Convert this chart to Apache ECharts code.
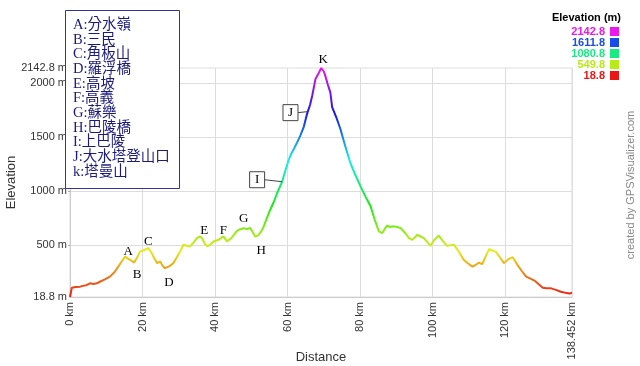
<!DOCTYPE html>
<html><head><meta charset="utf-8">
<script src="https://cdn.jsdelivr.net/npm/echarts@6/dist/echarts.min.js"></script>
<style>html,body{margin:0;padding:0;background:#fff}#c{width:640px;height:366px}</style>
</head><body><div id="c"></div>
<script>
// ---- data ----
const distances = [0,0.3,0.5,1.5,2.8,3.5,4.5,5.5,6.5,7.4,8.5,9.5,11,12.3,13.3,14.3,15.2,16.0,16.6,17.7,18.5,19.3,20.2,20.7,21.6,22.3,23,24,24.9,25.5,26.2,27.2,28.5,29.5,30.5,31.3,32.2,33.1,34,35,35.9,36.5,37.2,37.8,38.7,39.6,41,42.3,43.3,44.5,46,46.8,47.9,48.8,49.7,50.4,51.1,51.9,52.6,53.4,54.3,55.2,56.2,57.1,58.5,59.3,60.3,61.2,61.7,62.6,63.5,64.5,65.4,66.2,66.8,67.7,68.5,69.3,70.0,70.4,71.1,71.8,72.3,73.5,74.6,75.9,77.3,78.7,80.1,81.5,82.9,84.0,85.2,86.1,86.8,87.5,88.3,89.3,90.2,91.2,92.5,93.5,94.4,95.8,96.7,97.6,98.5,99.4,100.5,101.7,102.8,104,105.9,107.2,108.6,109.8,111,112.0,112.8,113.7,114.7,115.6,116.5,117.4,118.5,119.7,120.9,122.1,123.4,124.6,125.8,127,128.1,129.2,130.4,131.5,132.7,134,135.4,137,137.8,138.452];
const elevations = [18.8,20,105,112,115,122,128,146,140,146,165,180,208,250,301,350,394,375,363,338,385,440,450,456,472,440,394,333,348,310,286,300,333,390,450,503,495,488,520,565,581,560,510,488,505,534,550,581,534,565,630,645,656,650,659,620,578,590,620,671,750,826,900,981,1088,1180,1290,1360,1389,1450,1513,1600,1720,1800,1886,2040,2090,2142.8,2110,2072,1990,1917,1780,1680,1575,1420,1264,1150,1047,950,860,740,627,611,650,680,668,674,668,658,610,565,549,596,580,565,530,493,550,587,540,493,503,440,363,330,301,320,338,323,400,463,450,440,390,333,370,388,317,260,208,190,171,140,105,100,99,85,68,55,52,58];
const xTickValues = [0,20,40,60,80,100,120,138.452];
const yTickValues = [18.8,500,1000,1500,2000,2142.8];
const yGridValues = [500,1000,1500,2000];
const waypointNames = ['A','B','C','D','E','F','G','H','I','J','K'];
const waypointDist = [15.2,17.7,21.6,26.2,35.9,42.3,47.9,51.1,58.5,65.5,69.3];
const waypointElev = [394,338,472,286,581,581,656,578,1088,1738,2142.8];
const legendLabels = ['A:分水嶺','B:三民','C:角板山','D:羅浮橋','E:高坡','F:高義','G:蘇樂','H:巴陵橋','I:上巴陵','J:大水塔登山口','k:塔曼山'];
const scaleValues = [2142.8,1611.8,1080.8,549.8,18.8];
const elevMin = 18.8, elevMax = 2142.8, distMax = 138.452;

// ---- styles ----
const labelOffsets = [[3,-5],[3,12],[0,-7],[4,14],[4,-6],[0,-6],[0,-10],[6,14],[-25,-2],[-17,1],[2,-8]];
const labelBoxed = [false,false,false,false,false,false,false,false,true,true,false];

function hsv(h, s, v) {
  const f = n => { const k = (n + h / 60) % 6; return v - v * s * Math.max(0, Math.min(k, 4 - k, 1)); };
  const to = x => Math.round(x * 255).toString(16).padStart(2, '0');
  return '#' + to(f(5)) + to(f(3)) + to(f(1));
}
const hueStops = [];
for (let h = 0; h <= 300; h += 15) hueStops.push(hsv(h, 0.9, 0.92));
const colorFor = v => hsv((v - elevMin) / (elevMax - elevMin) * 300, 0.9, 0.92);

const chart = echarts.init(document.getElementById('c'), null, {renderer: 'canvas'});
const sans = '"Liberation Sans", Arial, sans-serif';
const serif = '"Liberation Serif", "Noto Sans CJK TC", serif';

const graphics = [];
// waypoint legend box
graphics.push({type: 'rect', left: 65, top: 10, z: 100,
  shape: {width: 114, height: 178}, style: {fill: '#fff', stroke: '#33339a', lineWidth: 1}});
legendLabels.forEach((t, i) => {
  graphics.push({type: 'text', x: 73, y: 25 + i * 14.7, z: 101,
    style: {text: t, fill: '#1a1a80', font: '14.5px ' + serif, textVerticalAlign: 'middle'}});
});
// elevation colour scale
graphics.push({type: 'text', x: 621, y: 18, z: 101,
  style: {text: 'Elevation (m)', fill: '#000', font: 'bold 11px ' + sans, textAlign: 'right', textVerticalAlign: 'middle'}});
scaleValues.forEach((v, i) => {
  const c = colorFor(v);
  graphics.push({type: 'text', x: 605, y: 32 + i * 11, z: 101,
    style: {text: String(v), fill: c, font: 'bold 11px ' + sans, textAlign: 'right', textVerticalAlign: 'middle'}});
  graphics.push({type: 'rect', x: 610, y: 27 + i * 11, z: 101,
    shape: {width: 9, height: 9}, style: {fill: c}});
});
graphics.push({type: 'text', x: 631, y: 185, rotation: Math.PI / 2, z: 101,
  style: {text: 'created by GPSVisualizer.com', fill: '#888', font: '11px ' + sans, textAlign: 'center', textVerticalAlign: 'middle'}});

chart.setOption({
  animation: false,
  backgroundColor: '#fff',
  grid: {left: 70, right: 68, top: 68, bottom: 69, show: true, borderColor: '#ddd', borderWidth: 1,
    containLabel: false, outerBoundsMode: 'none'},
  xAxis: {
    type: 'value', min: 0, max: distMax, interval: 20,
    name: 'Distance', nameLocation: 'middle', nameGap: 54, nameMoveOverlap: false,
    nameTextStyle: {fontFamily: sans, fontSize: 13, color: '#333'},
    axisLine: {show: true, lineStyle: {color: '#ccc'}},
    axisTick: {show: false},
    axisLabel: {customValues: xTickValues, rotate: 90, margin: 5, fontFamily: sans, fontSize: 11, color: '#333',
      formatter: v => v + ' km'},
    splitLine: {show: true, lineStyle: {color: '#ddd'}}
  },
  yAxis: {
    type: 'value', min: elevMin, max: elevMax,
    name: 'Elevation', nameLocation: 'middle', nameGap: 52, nameMoveOverlap: false,
    nameTextStyle: {fontFamily: sans, fontSize: 13, color: '#333'},
    axisLine: {show: true, lineStyle: {color: '#ccc'}},
    axisTick: {show: true, customValues: yGridValues, length: 2, lineStyle: {color: '#aaa'}},
    axisLabel: {customValues: yTickValues, margin: 3, fontFamily: sans, fontSize: 11, color: '#333',
      formatter: v => v + ' m'},
    splitLine: {show: true, lineStyle: {color: '#ddd'}}
  },
  visualMap: {
    type: 'continuous', show: false, seriesIndex: 0, dimension: 1,
    min: elevMin, max: elevMax, inRange: {color: hueStops}
  },
  series: [
    {
      type: 'line', showSymbol: false, symbol: 'none',
      lineStyle: {width: 2},
      data: distances.map((d, i) => [d, elevations[i]]),
      z: 3
    },
    {
      type: 'custom', z: 5, clip: false,
      data: waypointNames.map((n, i) => [waypointDist[i], waypointElev[i], i]),
      renderItem: (params, api) => {
        const i = api.value(2);
        const p = api.coord([api.value(0), api.value(1)]);
        const o = labelOffsets[i];
        const cx = p[0] + o[0], cy = p[1] + o[1];
        const children = [];
        if (labelBoxed[i]) {
          children.push({type: 'line', shape: {x1: cx + 7.5, y1: cy, x2: p[0], y2: p[1]},
            style: {stroke: '#444', lineWidth: 1}});
          children.push({type: 'rect', shape: {x: cx - 7.5, y: cy - 8, width: 15, height: 16},
            style: {fill: '#fff', stroke: '#444', lineWidth: 1}});
        }
        children.push({type: 'text', style: {text: waypointNames[i], x: cx, y: cy,
          textAlign: 'center', textVerticalAlign: 'middle', fill: '#000', font: '13px ' + serif}});
        return {type: 'group', children};
      }
    }
  ],
  graphic: graphics
});
</script></body></html>
